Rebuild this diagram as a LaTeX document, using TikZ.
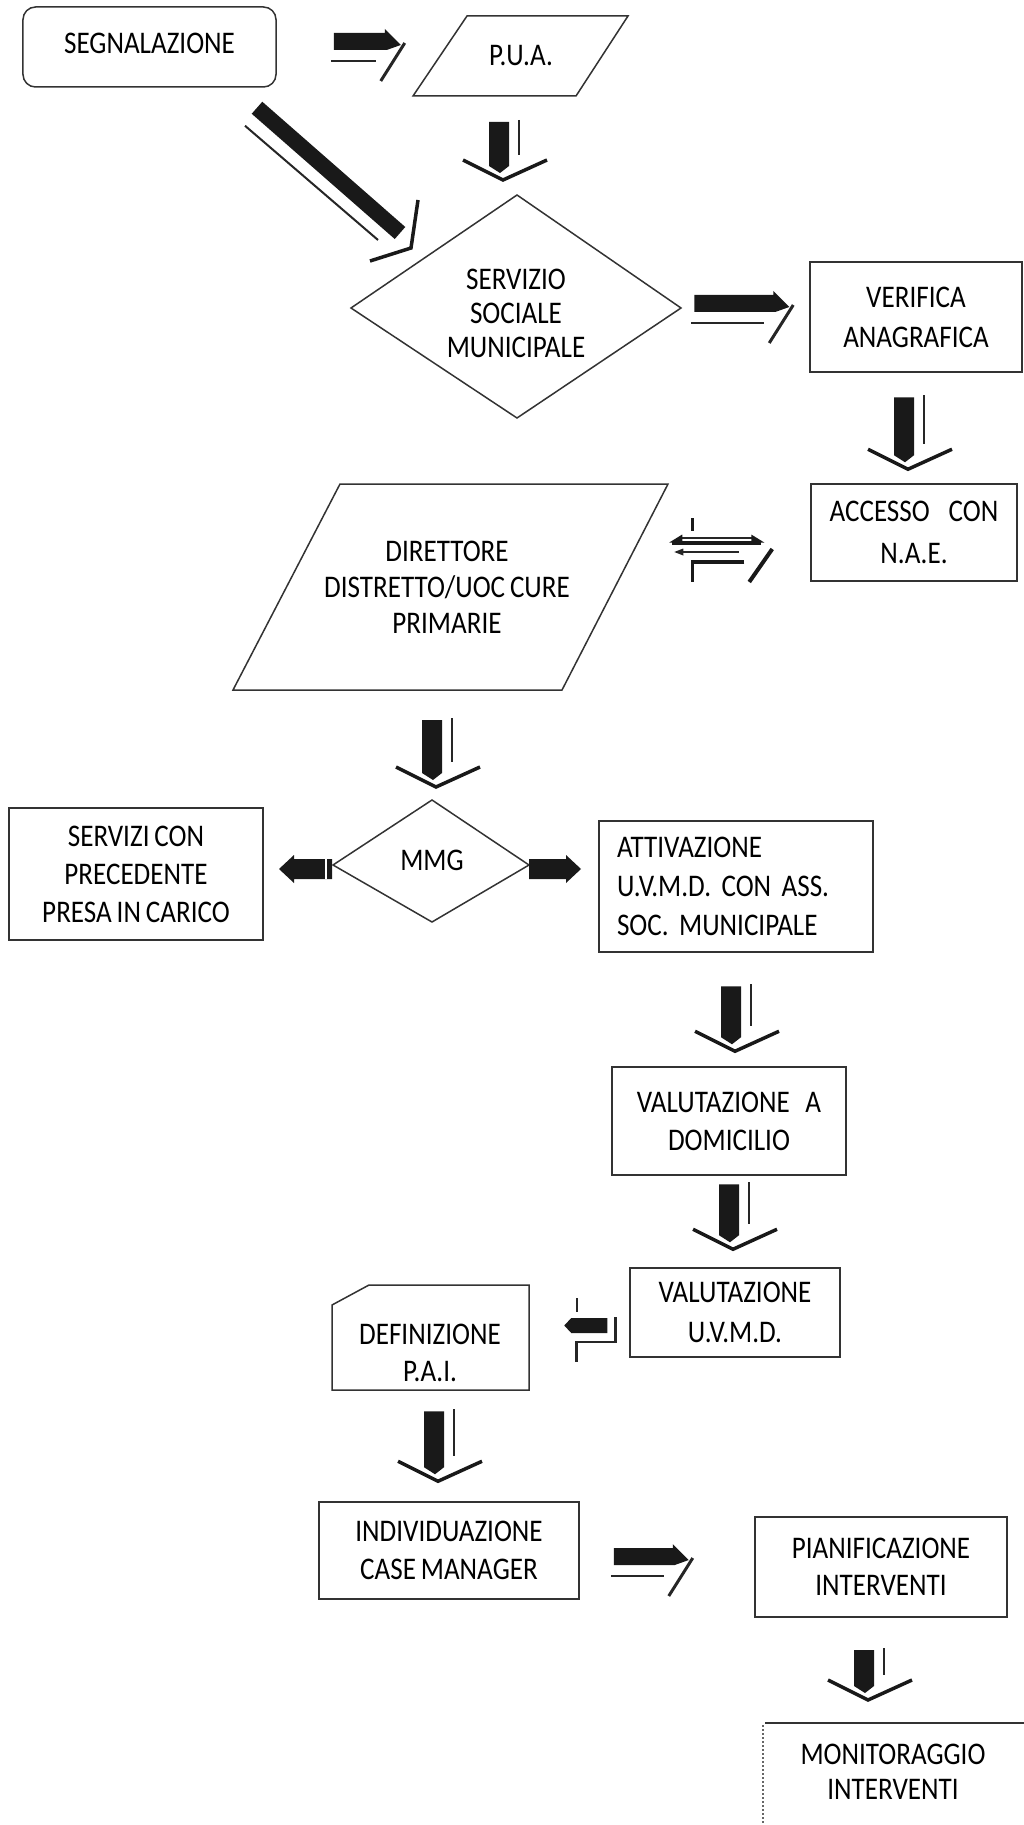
\documentclass[tikz,border=0pt]{standalone}
\usepackage{fontspec}
\setmainfont{Carlito}[FakeStretch=0.86,WordSpace=0.8]
\usetikzlibrary{calc}
\newcommand{\dfont}{\fontsize{12.6pt}{15.2pt}\selectfont}
\newcommand{\dfontb}[1]{\fontsize{12.6pt}{#1}\selectfont}
\frenchspacing
\tikzset{
  outl/.style={draw=black!80, line width=0.6pt},
  box/.style={outl, rectangle, inner sep=0pt, align=center},
  lbl/.style={inner sep=0pt, align=center},
  chev/.style={draw=black!90, line width=1.4pt, line join=miter},
  thinl/.style={draw=black!85, line width=0.8pt},
  pics/rarr/.style={code={
    \fill[black!90] (0,0) -- (#1-16,0) -- (#1-16,-4) -- (#1,12) -- (#1-14,17) -- (0,17) -- cycle;
    \draw[black!85, line width=0.9pt] (-3,28) -- (#1-25,28);
    \draw[black!85, line width=1.2pt] (#1+4,10) -- (#1-20,48);
  }},
  pics/darr/.style={code={
    \fill[black!90] (-14,-#1) -- (6,-#1) -- (6,-14) -- (-3,-7) -- (-14,-14) -- cycle;
    \draw[black!85, line width=0.9pt] (16,-#1-2) -- (16,-25);
    \draw[chev] (-40,-20) -- (0,0) -- (44,-20);
  }},
}
\begin{document}
\begin{tikzpicture}[x=0.4pt,y=-0.4pt]
\useasboundingbox (0,0) rectangle (1024,1825);

% ---------- nodes ----------
\node[box, rounded corners=5pt, minimum width=101.2pt, minimum height=32pt, font=\dfont] (seg) at (149.5,47) {\raisebox{3pt}{SEGNALAZIONE}};

\node[lbl, font=\dfont] (pua) at (521,56) {P.U.A.};
\draw[outl] ($(pua)+(-54,-40)$) -- ($(pua)+(107,-40)$) -- ($(pua)+(55,40)$) -- ($(pua)+(-108,40)$) -- cycle;

\node[lbl, font=\dfontb{13.6pt}] (ssm) at (516,313) {SERVIZIO\\SOCIALE\\MUNICIPALE};
\draw[outl] ($(ssm)+(1,-118)$) -- ($(ssm)+(165,-5)$) -- ($(ssm)+(1,105)$) -- ($(ssm)+(-165,-5)$) -- cycle;

\node[box, minimum width=84.8pt, minimum height=44pt, font=\dfontb{16pt}] (ver) at (916,317) {VERIFICA\\ANAGRAFICA};

\node[box, minimum width=82.4pt, minimum height=38.8pt, font=\dfontb{16.8pt}] (acc) at (914,532.5) {ACCESSO\hspace{0.6em}CON\\N.A.E.};

\node[lbl, font=\dfontb{14.4pt}] (dir) at (447,587) {DIRETTORE\\DISTRETTO/UOC CURE\\PRIMARIE};
\draw[outl] ($(dir)+(-107,-103)$) -- ($(dir)+(221,-103)$) -- ($(dir)+(115,103)$) -- ($(dir)+(-214,103)$) -- cycle;

\node[lbl, font=\dfont] (mmg) at (432,860) {MMG};
\draw[outl] ($(mmg)+(0,-60)$) -- ($(mmg)+(97,5)$) -- ($(mmg)+(0,62)$) -- ($(mmg)+(-99,5)$) -- cycle;

\node[box, minimum width=101.6pt, minimum height=52.8pt, font=\dfont] (serv) at (136,874) {SERVIZI CON\\PRECEDENTE\\PRESA IN CARICO};

\node[box, align=left, text width=95.2pt, inner xsep=7.2pt, minimum height=52.4pt, font=\dfontb{15.6pt}] (att) at (736,886.5) {ATTIVAZIONE\\U.V.M.D. CON ASS.\\SOC. MUNICIPALE};

\node[box, minimum width=93.6pt, minimum height=43.2pt, font=\dfont] (vdom) at (729,1121) {VALUTAZIONE\hspace{0.5em}A\\DOMICILIO};

\node[box, minimum width=84pt, minimum height=35.6pt, font=\dfontb{16pt}] (vuvmd) at (735,1312.5) {VALUTAZIONE\\U.V.M.D.};

\node[lbl, font=\dfontb{14.8pt}] (def) at (430,1353) {DEFINIZIONE\\P.A.I.};
\draw[outl] ($(def)+(-61,-68)$) -- ($(def)+(99,-68)$) -- ($(def)+(99,37)$) -- ($(def)+(-98,37)$) -- ($(def)+(-98,-48)$) -- cycle;

\node[box, minimum width=104pt, minimum height=38.8pt, font=\dfont] (ind) at (449,1550.5) {INDIVIDUAZIONE\\CASE MANAGER};

\node[box, minimum width=100.8pt, minimum height=40pt, font=\dfontb{14.8pt}] (pian) at (881,1567) {PIANIFICAZIONE\\INTERVENTI};

\node[lbl, font=\dfontb{14pt}] (mon) at (893,1772) {MONITORAGGIO\\INTERVENTI};
\draw[outl] ($(mon)+(-128,-49)$) -- ($(mon)+(131,-49)$);
\draw[outl, densely dotted, draw=black!60] ($(mon)+(-130,-47)$) -- ($(mon)+(-130,53)$);

% ---------- right block arrows ----------
\pic at ($(seg.east)+(57,-14)$) {rarr=67};
\pic at ($(ver.west)+(-115,-22)$) {rarr=95};
\pic at ($(ind.east)+(34,-2.5)$) {rarr=75};

% ---------- down block arrows ----------
\pic at ($(ssm)+(-13,-133)$) {darr=58};
\pic at ($(acc.north)+(-6,-14)$) {darr=72};
\pic at ($(mmg)+(4,-73)$) {darr=67};
\pic at ($(vdom.north)+(6,-15)$) {darr=65};
\pic at ($(vuvmd.north)+(-2,-18)$) {darr=65};
\pic at ($(ind.north)+(-11,-20)$) {darr=70};
\pic at ($(mon)+(-25,-72)$) {darr=50};

% ---------- diagonal arrow seg -> ssm ----------
\draw[black!90, line width=6.4pt] ($(seg.south)+(107.5,20)$) -- ($(ssm)+(-116,-80)$);
\draw[thinl] ($(seg.south)+(95.5,38)$) -- ($(ssm)+(-138,-73)$);
\draw[chev] ($(ssm)+(-98,-113)$) -- ($(ssm)+(-105,-65)$) -- ($(ssm)+(-146,-52)$);

% ---------- MMG side arrows ----------
\fill[black!90] ($(mmg)+(-100,-1)$) -- ($(mmg)+(-138,-1)$) -- ($(mmg)+(-138,-5)$) -- ($(mmg)+(-153,9)$) -- ($(mmg)+(-138,23)$) -- ($(mmg)+(-138,19)$) -- ($(mmg)+(-100,19)$) -- cycle;
\draw[white, line width=0.8pt] ($(mmg)+(-106,-1)$) -- ($(mmg)+(-106,19)$);
\fill[black!90] ($(mmg)+(97,-1)$) -- ($(mmg)+(134,-1)$) -- ($(mmg)+(134,-5)$) -- ($(mmg)+(149,9)$) -- ($(mmg)+(134,23)$) -- ($(mmg)+(134,19)$) -- ($(mmg)+(97,19)$) -- cycle;

% ---------- small arrow vuvmd -> def ----------
\fill[black!90] ($(vuvmd.west)+(-65,13)$) -- ($(vuvmd.west)+(-58,5.5)$) -- ($(vuvmd.west)+(-22,5.5)$) -- ($(vuvmd.west)+(-22,20.5)$) -- ($(vuvmd.west)+(-58,20.5)$) -- cycle;
\draw[thinl, line width=1.1pt] ($(vuvmd.west)+(-14,4.5)$) -- ($(vuvmd.west)+(-14,29.5)$) -- ($(vuvmd.west)+(-53,29.5)$) -- ($(vuvmd.west)+(-53,49.5)$);
\draw[thinl] ($(vuvmd.west)+(-52,-14.5)$) -- ($(vuvmd.west)+(-52,-0.5)$);

% ---------- two-way arrow dir <-> acc ----------
\draw[black!90, line width=1.3pt] ($(acc.west)+(-138,10.5)$) -- ($(acc.west)+(-49,10.5)$);
\draw[black!85, line width=0.6pt] ($(acc.west)+(-129,5.5)$) -- ($(acc.west)+(-56,5.5)$);
\fill[black!90] ($(acc.west)+(-141,10)$) -- ($(acc.west)+(-128,2)$) -- ($(acc.west)+(-128,10)$) -- cycle;
\fill[black!90] ($(acc.west)+(-46,10)$) -- ($(acc.west)+(-59,2)$) -- ($(acc.west)+(-59,10)$) -- cycle;
\draw[black!85, line width=0.8pt] ($(acc.west)+(-128,19.5)$) -- ($(acc.west)+(-71,19.5)$);
\fill[black!85] ($(acc.west)+(-136,19.5)$) -- ($(acc.west)+(-127,16)$) -- ($(acc.west)+(-127,23)$) -- cycle;
\draw[black!90, line width=1pt] ($(acc.west)+(-118,-14.5)$) -- ($(acc.west)+(-118,-1.5)$);
\draw[black!90, line width=1.3pt] ($(acc.west)+(-66,29.5)$) -- ($(acc.west)+(-118,29.5)$) -- ($(acc.west)+(-118,49.5)$);
\draw[black!90, line width=1.6pt] ($(acc.west)+(-38,16.5)$) -- ($(acc.west)+(-61,49.5)$);
\end{tikzpicture}
\end{document}
